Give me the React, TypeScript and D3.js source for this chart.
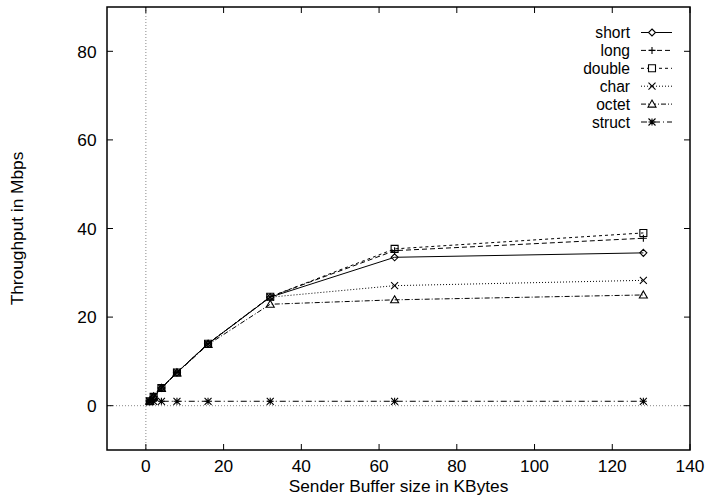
import React from "react";
import * as d3 from "d3";

const bufferSizes = [1, 2, 4, 8, 16, 32, 64, 128];
const shortVals = [1.0, 2.0, 4.0, 7.5, 14.0, 24.5, 33.5, 34.5];
const longVals = [1.0, 2.0, 4.0, 7.5, 14.0, 24.6, 35.0, 37.8];
const doubleVals = [1.0, 2.0, 4.0, 7.5, 14.0, 24.6, 35.4, 39.0];
const charVals = [1.0, 2.0, 4.0, 7.5, 13.9, 24.5, 27.1, 28.3];
const octetVals = [1.0, 2.0, 3.9, 7.4, 13.8, 22.9, 23.9, 25.0];
const structVals = [1.0, 1.0, 1.0, 1.0, 1.0, 1.0, 1.0, 1.0];

const xTicks = [0, 20, 40, 60, 80, 100, 120, 140];
const yTicks = [0, 20, 40, 60, 80];

const seriesNames = ["short", "long", "double", "char", "octet", "struct"];
const seriesValues = [shortVals, longVals, doubleVals, charVals, octetVals, structVals];
const dashes = ["", "5,3", "3,3", "1,2", "5,2,1,2", "6,3,1,3"];
const markers = ["diamond", "plus", "square", "cross", "triangle", "star"];

const W = 706;
const H = 500;
const left = 107;
const right = 690;
const top = 7;
const bottom = 450;
const FONT = "'Liberation Sans', Arial, Helvetica, sans-serif";
const FS = 17.3;
const LFS = 15.6;

function markerPath(type: string, x: number, y: number): string {
  const s = 3.5;
  switch (type) {
    case "diamond":
      return `M${x},${y - s}L${x + s},${y}L${x},${y + s}L${x - s},${y}Z`;
    case "plus":
      return `M${x - s},${y}L${x + s},${y}M${x},${y - s}L${x},${y + s}`;
    case "square":
      return `M${x - s},${y - s}L${x + s},${y - s}L${x + s},${y + s}L${x - s},${y + s}Z`;
    case "cross":
      return `M${x - s},${y - s}L${x + s},${y + s}M${x - s},${y + s}L${x + s},${y - s}`;
    case "triangle":
      return `M${x},${y - s - 0.5}L${x + s + 0.5},${y + s - 0.5}L${x - s - 0.5},${y + s - 0.5}Z`;
    case "star":
      return `M${x - s},${y}L${x + s},${y}M${x},${y - s}L${x},${y + s}M${x - s},${y - s}L${x + s},${y + s}M${x - s},${y + s}L${x + s},${y - s}`;
  }
  return "";
}

export default function App() {
  const x = d3.scaleLinear().domain([-10, 140]).range([left, right]);
  const y = d3.scaleLinear().domain([-10, 90]).range([bottom, top]);
  const line = d3
    .line<[number, number]>()
    .x((d) => x(d[0]))
    .y((d) => y(d[1]));

  const legendTextX = 630;
  const legendLineX0 = 641;
  const legendLineX1 = 672;
  const legendMarkX = 652;
  const legendY0 = 32.5;
  const legendStep = 17.9;

  return (
    <svg
      width={W}
      height={H}
      style={{ position: "absolute", left: 0, top: 0, background: "#fff" }}
      fontFamily={FONT}
    >
      <rect x={0} y={0} width={W} height={H} fill="#fff" />
      {/* zero axes */}
      <line x1={x(0)} x2={x(0)} y1={top} y2={bottom} stroke="#888" strokeWidth={1} strokeDasharray="1,2" />
      <line x1={left} x2={right} y1={y(0)} y2={y(0)} stroke="#888" strokeWidth={1} strokeDasharray="1,2" />

      {/* ticks */}
      {xTicks.map((t) => (
        <g key={"xt" + t}>
          <line x1={x(t)} x2={x(t)} y1={bottom} y2={bottom - 6} stroke="#000" />
          <line x1={x(t)} x2={x(t)} y1={top} y2={top + 6} stroke="#000" />
          <text x={x(t)} y={bottom + 22} textAnchor="middle" fontSize={FS} fill="#000">
            {t}
          </text>
        </g>
      ))}
      {yTicks.map((t) => (
        <g key={"yt" + t}>
          <line x1={left} x2={left + 6} y1={y(t)} y2={y(t)} stroke="#000" />
          <line x1={right} x2={right - 6} y1={y(t)} y2={y(t)} stroke="#000" />
          <text x={left - 10.5} y={y(t) + 6.3} textAnchor="end" fontSize={FS} fill="#000">
            {t}
          </text>
        </g>
      ))}

      {/* series */}
      {seriesValues.map((vals, i) => {
        const pts: [number, number][] = bufferSizes.map((b, j) => [b, vals[j]]);
        return (
          <g key={"s" + i}>
            <path d={line(pts) || ""} fill="none" stroke="#000" strokeWidth={1} strokeDasharray={dashes[i]} />
            {pts.map((p, j) => (
              <path
                key={j}
                d={markerPath(markers[i], x(p[0]), y(p[1]))}
                fill="none"
                stroke="#000"
                strokeWidth={1.1}
              />
            ))}
          </g>
        );
      })}

      {/* legend */}
      {seriesNames.map((n, i) => {
        const ly = legendY0 + i * legendStep;
        return (
          <g key={"lg" + i}>
            <text x={legendTextX} y={ly + 5.7} textAnchor="end" fontSize={LFS} fill="#000">
              {n}
            </text>
            <line x1={legendLineX0} x2={legendLineX1} y1={ly} y2={ly} stroke="#000" strokeDasharray={dashes[i]} />
            <path d={markerPath(markers[i], legendMarkX, ly)} fill="#fff" stroke="#000" strokeWidth={1.1} />
          </g>
        );
      })}

      {/* frame */}
      <rect x={left} y={top} width={right - left} height={bottom - top} fill="none" stroke="#000" strokeWidth={1.5} />

      {/* axis titles */}
      <text x={(left + right) / 2} y={492} textAnchor="middle" fontSize={FS} fill="#000">
        Sender Buffer size in KBytes
      </text>
      <text
        transform={`translate(23,${(top + bottom) / 2}) rotate(-90)`}
        textAnchor="middle"
        fontSize={FS}
        fill="#000"
      >
        Throughput in Mbps
      </text>
    </svg>
  );
}
